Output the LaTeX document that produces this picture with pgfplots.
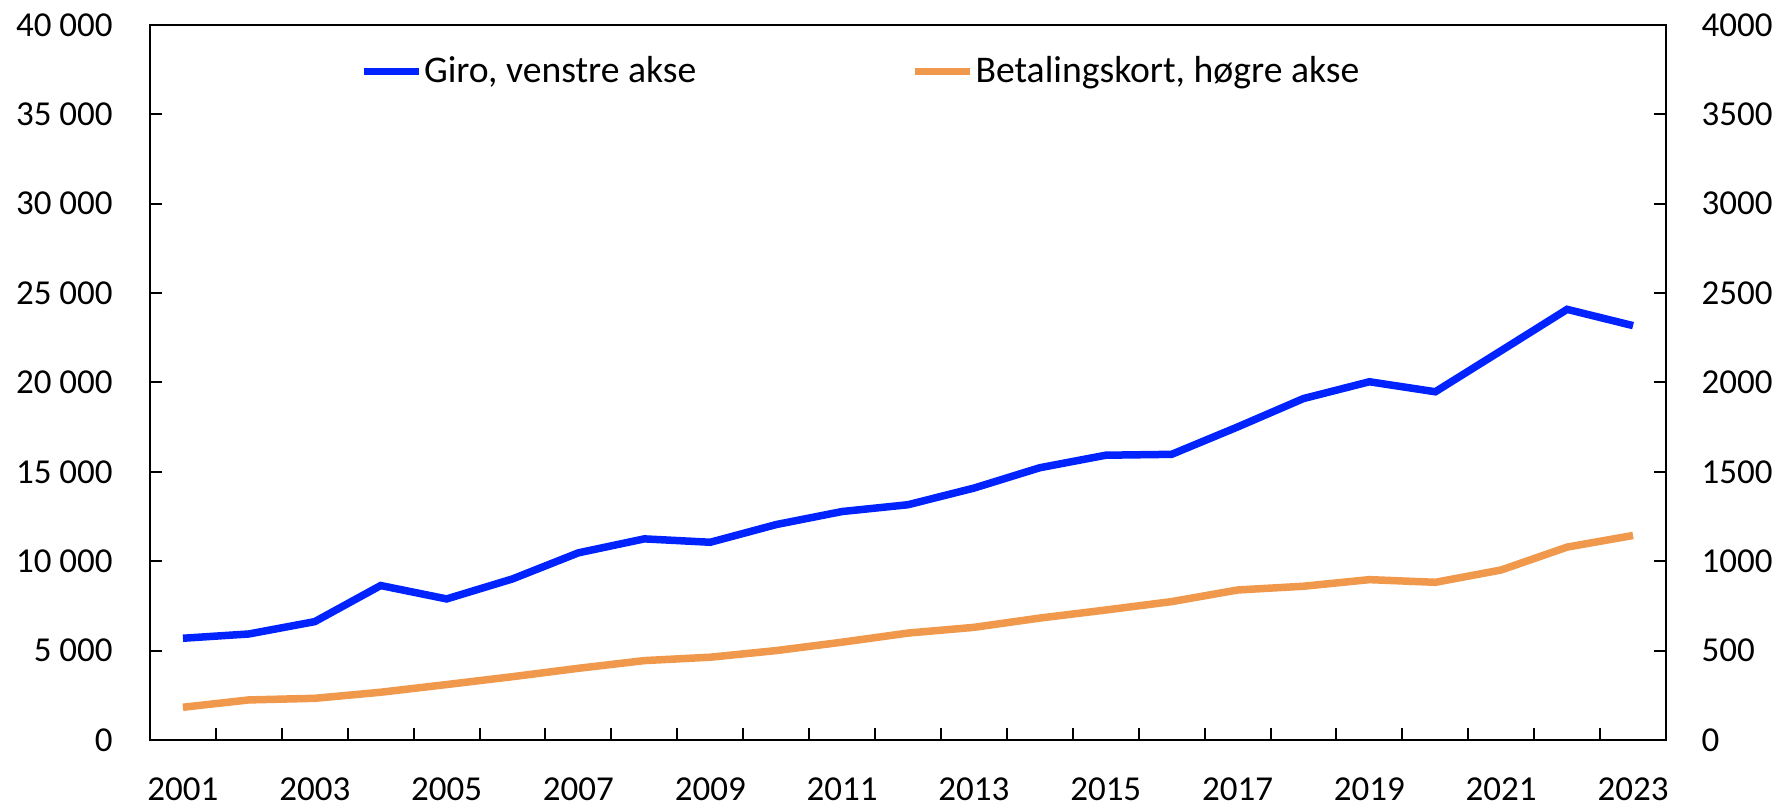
\documentclass[border=0pt]{standalone}
\usepackage{fontspec}
\setmainfont{Carlito}
\usepackage{pgfplots}
\pgfplotsset{compat=1.18}

\definecolor{giro}{RGB}{0,35,255}
\definecolor{kort}{RGB}{240,152,76}

% 1 px of the reference = 0.3pt
\pgfplotsset{
  base/.style={
    width=454.8pt, height=214.5pt, scale only axis,
    xmin=2000.5, xmax=2023.5,
    tick align=inside,
    major tick length=3.6pt,
    minor tick length=3.6pt,
    axis line style={line width=0.75pt},
    every tick/.style={black, line width=0.6pt},
    tick label style={font=\fontsize{10.5}{12}\selectfont, inner sep=0pt},
    /pgf/number format/assume math mode=true,
    scaled y ticks=false,
  },
}

\begin{document}
\begin{tikzpicture}
\begin{axis}[
    base, name=ax,
    ymin=0, ymax=40000,
    ytick={0,5000,...,40000},
    ytick pos=left, xtick pos=bottom,
    yticklabel style={/pgf/number format/1000 sep={\ }},
    yticklabel shift=11pt,
    xtick={2001,2003,...,2023},
    xticklabels={2001,2003,2005,2007,2009,2011,2013,2015,2017,2019,2021,2023},
    xticklabel shift=11pt,
    major x tick style={draw=none},
    minor xtick={2001.5,2002.5,2003.5,2004.5,2005.5,2006.5,2007.5,2008.5,2009.5,2010.5,2011.5,2012.5,2013.5,2014.5,2015.5,2016.5,2017.5,2018.5,2019.5,2020.5,2021.5,2022.5},
    legend style={draw=none, fill=none, inner sep=0pt,
      at={(0.138,0.935)}, anchor=west, legend columns=2,
      font=\fontsize{11.3}{13}\selectfont,
      nodes={inner sep=0.5pt},
      /tikz/every even column/.append style={column sep=64pt}},
    legend cell align=left,
    legend image code/.code={\draw[#1] (0pt,0pt) -- (16.5pt,0pt);},
]
\addplot[giro, line width=2.25pt] coordinates {
    (2001,5690) (2002,5930) (2003,6620) (2004,8640) (2005,7890)
    (2006,9010) (2007,10470) (2008,11250) (2009,11060) (2010,12050)
    (2011,12780) (2012,13160) (2013,14090) (2014,15230) (2015,15930)
    (2016,15980) (2017,17510) (2018,19100) (2019,20040) (2020,19480)
    (2021,21780) (2022,24090) (2023,23180)
};
\addlegendentry{Giro, venstre akse}
\addlegendimage{kort, line width=2.25pt}
\addlegendentry{Betalingskort, høgre akse}
\end{axis}

\begin{axis}[
    base,
    ymin=0, ymax=4000,
    ytick={0,500,...,4000},
    axis y line*=right, axis x line=none,
    yticklabel style={/pgf/number format/1000 sep={}},
    yticklabel shift=10.5pt,
]
\addplot[kort, line width=2.25pt] coordinates {
    (2001,183) (2002,224) (2003,233) (2004,267) (2005,310)
    (2006,354) (2007,401) (2008,444) (2009,463) (2010,500)
    (2011,547) (2012,598) (2013,630) (2014,682) (2015,727)
    (2016,774) (2017,839) (2018,860) (2019,897) (2020,882)
    (2021,951) (2022,1079) (2023,1144)
};
\end{axis}

\pgfresetboundingbox
\path ([shift={(-45pt,-19.2pt)}]ax.south west) rectangle ([shift={(33.9pt,7.5pt)}]ax.north east);
\end{tikzpicture}
\end{document}
